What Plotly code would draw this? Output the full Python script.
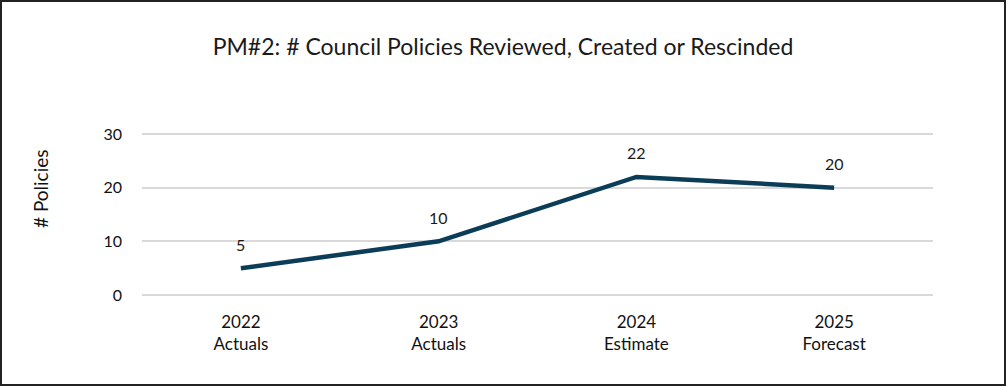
import plotly.graph_objects as go

categories = ["2022<br>Actuals", "2023<br>Actuals", "2024<br>Estimate", "2025<br>Forecast"]
values = [5, 10, 22, 20]
y_ticks = [0, 10, 20, 30]

W, H = 1006, 386
ml, mr, mt, mb = 142, 73, 131, 88
pw, ph = W - ml - mr, H - mt - mb
FONT = "Lato, Open Sans, sans-serif"

fig = go.Figure()
fig.add_trace(go.Scatter(
    x=categories, y=values, mode="lines",
    line=dict(color="#0c3d58", width=4.5),
    hoverinfo="skip",
))

annotations = [
    dict(x=c, y=v, xref="x", yref="y", text=str(v), showarrow=False,
         yshift=24, font=dict(family=FONT, size=16, color="#1a1a1a"))
    for c, v in zip(categories, values)
]
annotations.append(dict(
    text="# Policies", xref="paper", yref="paper",
    x=(40 - ml) / pw, y=(H - mb - 189) / ph, xanchor="center", yanchor="middle",
    textangle=-90, showarrow=False, font=dict(family=FONT, size=19, color="#111111"),
))

fig.update_layout(
    width=W, height=H,
    margin=dict(l=ml, r=mr, t=mt, b=mb),
    paper_bgcolor="white", plot_bgcolor="white",
    showlegend=False,
    font=dict(family=FONT, color="#1a1a1a"),
    title=dict(text="PM#2: # Council Policies Reviewed, Created or Rescinded",
               x=0.5, xanchor="center", y=1 - 47 / H, yanchor="middle",
               font=dict(size=23, color="#1a1a1a")),
    xaxis=dict(type="category", range=[-0.5, 3.5], showgrid=False, zeroline=False,
               showline=False, ticks="", tickfont=dict(size=17, color="#111111"),
               ticklabelstandoff=12),
    yaxis=dict(range=[-0.55, 30.55], tickvals=y_ticks, showgrid=True, gridcolor="#d9d9d9",
               gridwidth=1.5, zeroline=True, zerolinecolor="#d9d9d9", zerolinewidth=1.5,
               showline=False, ticks="",
               tickfont=dict(size=16, color="#111111"), ticklabelstandoff=19),
    annotations=annotations,
    shapes=[dict(type="rect", xref="paper", yref="paper",
                 x0=-(ml - 1) / pw, x1=(W - ml - 1) / pw,
                 y0=-(mb - 1) / ph, y1=(H - mb - 1) / ph,
                 line=dict(color="#222222", width=2), fillcolor="rgba(0,0,0,0)")],
)

fig.write_html("out.html", config={"displayModeBar": False},
               post_script="document.body.style.margin='0';document.body.style.padding='0';")
